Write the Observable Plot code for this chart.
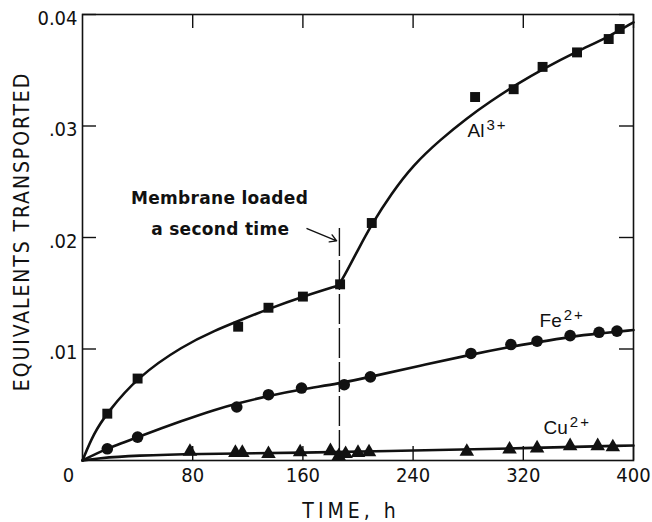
<!DOCTYPE html>
<html><head><meta charset="utf-8">
<script src="https://cdn.jsdelivr.net/npm/d3@7"></script>
<script src="https://cdn.jsdelivr.net/npm/@observablehq/plot@0.6"></script>
<style>
body{margin:0;background:#fff;}
#chart svg{display:block;background:#fff;}
</style></head><body><div id="chart"></div>
<script>
// ---- measured points ----
const alTimes  = [18, 40, 113, 135, 160, 187, 210, 285, 313, 334, 359, 382, 390];
const alValues = [0.0042, 0.00735, 0.0120, 0.0137, 0.0147, 0.0158, 0.0213, 0.0326, 0.0333, 0.0353, 0.0366, 0.0378, 0.0387];
const feTimes  = [18, 40, 112, 135, 159, 190, 209, 282, 311, 330, 354, 375, 388];
const feValues = [0.00105, 0.0021, 0.0048, 0.0059, 0.0065, 0.0068, 0.0075, 0.0096, 0.0104, 0.0107, 0.0112, 0.0115, 0.0116];
const cuTimes  = [78, 111, 116, 135, 158, 180, 186, 191, 200, 208, 279, 310, 330, 354, 374, 385];
const cuValues = [0.0008, 0.0007, 0.0007, 0.0006, 0.00075, 0.00085, 0.0004, 0.0006, 0.0007, 0.00075, 0.0008, 0.001, 0.0011, 0.0013, 0.0013, 0.0012];

// ---- fitted curves ----
const alFit1T = [0, 8, 18, 40, 73, 97, 113, 135, 160, 186];
const alFit1V = [0, 0.0024, 0.0043, 0.0075, 0.0103, 0.0117, 0.0125, 0.0136, 0.0147, 0.0157];
const alFit2T = [186, 192, 200, 210, 224, 240, 260, 279, 296, 316, 334, 359, 382, 400];
const alFit2V = [0.0157, 0.0170, 0.0189, 0.0212, 0.0239, 0.0265, 0.0288, 0.0307, 0.0322, 0.0338, 0.0351, 0.0367, 0.0380, 0.0393];
const feFitT = [0, 18, 40, 73, 97, 112, 135, 160, 186, 209, 245, 282, 311, 330, 354, 375, 400];
const feFitV = [0, 0.0011, 0.0021, 0.0036, 0.0046, 0.0051, 0.0058, 0.0064, 0.0069, 0.0075, 0.0085, 0.0095, 0.0102, 0.0106, 0.0111, 0.0114, 0.0117];
const cuFitT = [0, 10, 40, 80, 160, 240, 320, 400];
const cuFitV = [0, 0.0002, 0.00045, 0.0006, 0.00068, 0.0009, 0.0011, 0.00135];

// ---- ticks & labels ----
const xTicks = [80, 160, 240, 320, 400];
const yTicks = [0.01, 0.02, 0.03, 0.04];
const yTickLabels = [".01", ".02", ".03", "0.04"];
const originLabel = ["0"];
const xTitle = "TIME, h";
const yTitle = "EQUIVALENTS TRANSPORTED";

const ionNames = ["Al", "Fe", "Cu"];
const ionCharges = ["3+", "2+", "2+"];
const ionLabelT = [279.5, 331.8, 334.7];
const ionLabelV = [0.0290, 0.0120, 0.0024];

const noteLines = ["Membrane loaded", "a second time"];
const noteT = [99.5, 100];
const noteV = [0.0230, 0.0202];
const loadTime = [186.5];
const loadLineTop = [0.0208];
const arrowFrom = [163, 0.0208];
const arrowTo = [184.5, 0.0197];

// ---- build tables ----
const zipTV = (T, V) => T.map((t, i) => ({t, v: V[i]}));
const alPts = zipTV(alTimes, alValues), fePts = zipTV(feTimes, feValues), cuPts = zipTV(cuTimes, cuValues);
const alFit1 = zipTV(alFit1T, alFit1V), alFit2 = zipTV(alFit2T, alFit2V);
const feFit = zipTV(feFitT, feFitV), cuFit = zipTV(cuFitT, cuFitV);
const ionLabels = ionNames.map((n, i) => ({n, t: ionLabelT[i], v: ionLabelV[i]}));
const notes = noteLines.map((s, i) => ({s, t: noteT[i], v: noteV[i]}));

const W = 652, H = 522;
const mT = 14, mR = 19, mB = 62, mL = 82;
const frameW = W - mL - mR, frameH = H - mT - mB;
const tickLen = 14;
const axisFont = "'Liberation Sans Narrow', 'DejaVu Sans Condensed', 'Liberation Sans', sans-serif";
const ink = "#111";

const chart = Plot.plot({
  width: W, height: H,
  marginTop: mT, marginRight: mR, marginBottom: mB, marginLeft: mL,
  x: {domain: [0, 400], axis: null},
  y: {domain: [0, 0.04], axis: null},
  marks: [
    // inward ticks on all four sides
    Plot.ruleX(xTicks, {insetTop: frameH - tickLen, stroke: ink, strokeWidth: 1.4}),
    Plot.ruleX(xTicks, {insetBottom: frameH - tickLen, stroke: ink, strokeWidth: 1.4}),
    Plot.ruleY(yTicks, {insetRight: frameW - tickLen, stroke: ink, strokeWidth: 1.4}),
    Plot.ruleY(yTicks, {insetLeft: frameW - tickLen, stroke: ink, strokeWidth: 1.4}),
    Plot.frame({stroke: ink, strokeWidth: 1.6}),
    // tick labels
    Plot.text(xTicks, {x: d => d, frameAnchor: "bottom", lineAnchor: "middle", dy: 15, text: d => String(d), fontFamily: axisFont, fontSize: 20, fill: ink}),
    Plot.text(yTicks, {y: d => d, frameAnchor: "left", textAnchor: "end", dx: -5, dy: 4, text: (d, i) => yTickLabels[i], fontFamily: axisFont, fontSize: 20, fill: ink}),
    Plot.text(originLabel, {frameAnchor: "bottom-left", textAnchor: "middle", dx: -14, dy: 15, lineAnchor: "middle", fontFamily: axisFont, fontSize: 20, fill: ink}),
    // axis titles
    Plot.text([xTitle], {frameAnchor: "bottom", textAnchor: "middle", dx: -7, dy: 51, lineAnchor: "middle", fontFamily: axisFont, fontSize: 21, fill: ink}),
    Plot.text([yTitle], {frameAnchor: "left", textAnchor: "middle", dx: -60, dy: -6, rotate: -90, lineAnchor: "middle", fontFamily: axisFont, fontSize: 21, fill: ink}),
    // annotation
    Plot.ruleX(loadTime, {x: d => d, y1: 0, y2: (d, i) => loadLineTop[i], stroke: ink, strokeWidth: 1.4, strokeDasharray: "30,4"}),
    Plot.arrow([0], {x1: () => arrowFrom[0], y1: () => arrowFrom[1], x2: () => arrowTo[0], y2: () => arrowTo[1], stroke: ink, strokeWidth: 1.4, headLength: 8}),
    Plot.text(notes, {x: "t", y: "v", text: "s", textAnchor: "middle", lineAnchor: "bottom", fontFamily: "'DejaVu Sans', sans-serif", fontWeight: "bold", fontSize: 17, fill: ink}),
    // curves
    Plot.line(alFit1, {x: "t", y: "v", curve: "basis", stroke: ink, strokeWidth: 2.6}),
    Plot.line(alFit2, {x: "t", y: "v", curve: "basis", stroke: ink, strokeWidth: 2.6}),
    Plot.line(feFit, {x: "t", y: "v", curve: "basis", stroke: ink, strokeWidth: 2.6}),
    Plot.line(cuFit, {x: "t", y: "v", curve: "basis", stroke: ink, strokeWidth: 2.6}),
    // points
    Plot.dot(alPts, {x: "t", y: "v", symbol: "square", r: 5.6, fill: ink}),
    Plot.dot(fePts, {x: "t", y: "v", symbol: "circle", r: 5.8, fill: ink}),
    Plot.dot(cuPts, {x: "t", y: "v", symbol: "triangle", r: 5.4, fill: ink}),
    // ion labels
    Plot.text(ionLabels, {x: "t", y: "v", text: "n", textAnchor: "start", lineAnchor: "bottom", fontFamily: "'Liberation Sans', sans-serif", fontSize: 19, fill: ink})
  ]
});

// superscripts & letter spacing (text stays text)
const chargeOf = new Map(ionNames.map((n, i) => [n, ionCharges[i]]));
d3.select(chart).selectAll("text").each(function() {
  const s = this.textContent;
  if (chargeOf.has(s)) {
    d3.select(this).append("tspan").attr("font-size", 15).attr("letter-spacing", 2).attr("dx", 2).attr("dy", -7).text(chargeOf.get(s));
  } else if (s === xTitle) {
    d3.select(this).attr("letter-spacing", 4);
  } else if (s === yTitle) {
    d3.select(this).attr("letter-spacing", 1.9);
  } else if (noteLines.includes(s)) {
    d3.select(this).attr("letter-spacing", 0.3);
  }
});
document.getElementById("chart").appendChild(chart);
</script>
</body></html>
